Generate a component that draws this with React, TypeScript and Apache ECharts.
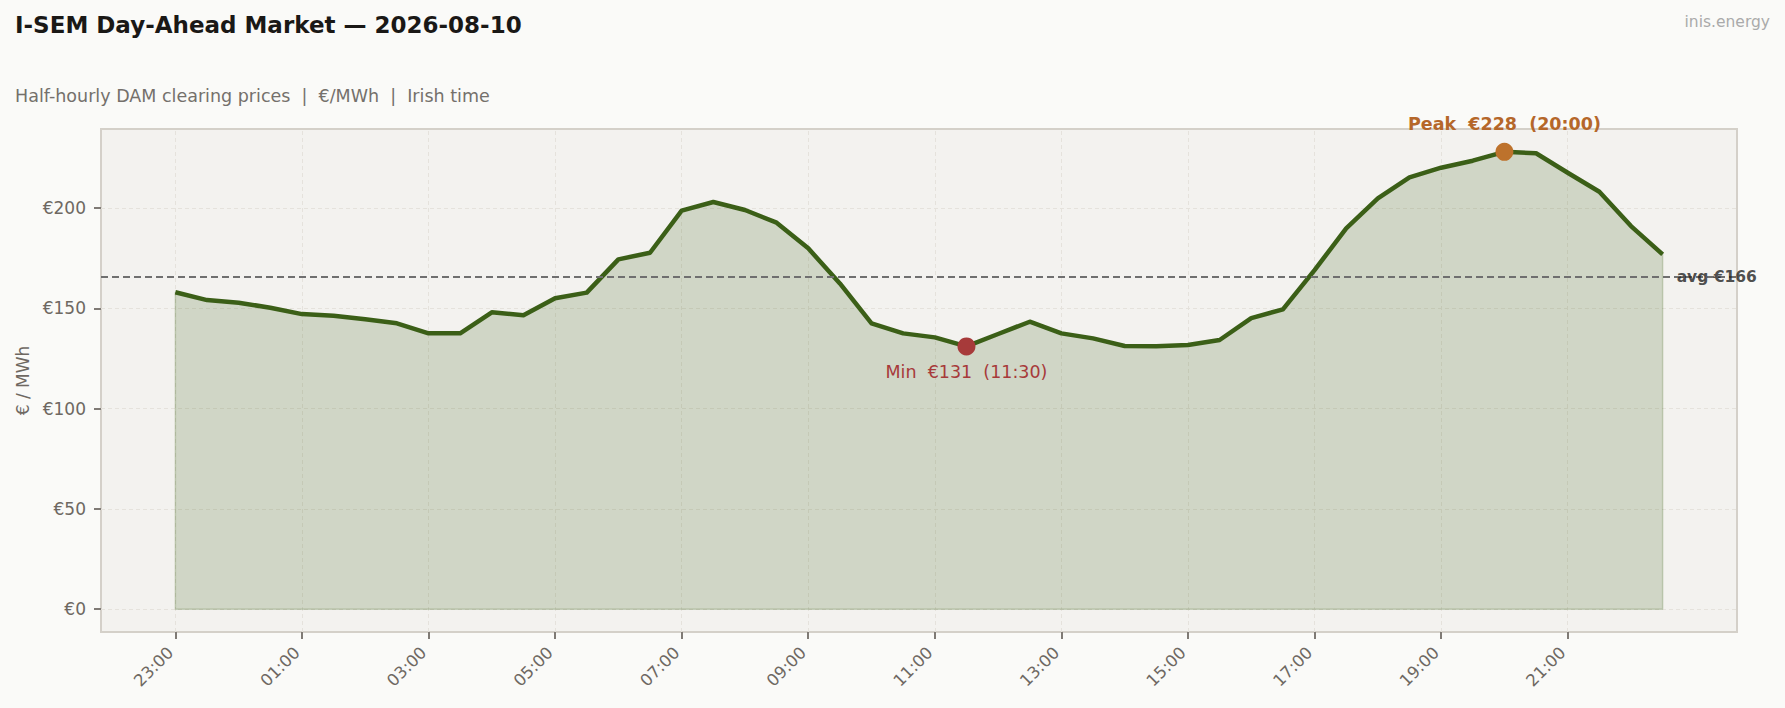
import React from 'react';
import * as echarts from 'echarts';

// half-hourly slots of the trading day (Irish time)
const slots = [
  '23:00', '23:30', '00:00', '00:30', '01:00', '01:30', '02:00', '02:30',
  '03:00', '03:30', '04:00', '04:30', '05:00', '05:30', '06:00', '06:30',
  '07:00', '07:30', '08:00', '08:30', '09:00', '09:30', '10:00', '10:30',
  '11:00', '11:30', '12:00', '12:30', '13:00', '13:30', '14:00', '14:30',
  '15:00', '15:30', '16:00', '16:30', '17:00', '17:30', '18:00', '18:30',
  '19:00', '19:30', '20:00', '20:30', '21:00', '21:30', '22:00', '22:30',
];

// DAM clearing prices, €/MWh
const prices = [
  158.0, 154.1, 152.8, 150.3, 147.1, 146.3, 144.5, 142.5, 137.5, 137.5,
  148.0, 146.5, 155.0, 157.8, 174.4, 177.7, 198.7, 203.0, 199.0, 192.7,
  179.9, 162.4, 142.5, 137.5, 135.5, 131.0, 137.2, 143.3, 137.5, 135.0,
  131.2, 131.1, 131.7, 134.2, 145.1, 149.5, 169.0, 189.9, 204.8, 215.3,
  220.1, 223.6, 228.0, 227.3, 217.6, 208.1, 191.0, 176.9,
];

const xTickLabels = ['23:00', '01:00', '03:00', '05:00', '07:00', '09:00', '11:00', '13:00', '15:00', '17:00', '19:00', '21:00'];
const yTicks = [0, 50, 100, 150, 200];

const FONT = 'DejaVu Sans';
const MUTED = '#6e6862';
const LINE = '#3b5f17';

const App = () => {
  const chartRef = React.useRef(null);

  React.useEffect(() => {
    const myChart = echarts.init(chartRef.current, null, { renderer: 'svg' });

    const n = prices.length;
    const xTicks = xTickLabels.map((t) => slots.indexOf(t));
    const avg = prices.reduce((a, b) => a + b, 0) / n;
    const maxV = Math.max(...prices);
    const minV = Math.min(...prices);
    const peakIdx = prices.indexOf(maxV);
    const minIdx = prices.indexOf(minV);
    const xPad = (n - 1) * 0.05;
    const yPad = maxV * 0.05;

    const option: any = {
      animation: false,
      backgroundColor: '#fafaf8',
      textStyle: { fontFamily: FONT },
      graphic: [
        {
          type: 'text',
          x: 15,
          y: 25,
          style: {
            text: 'I-SEM Day-Ahead Market — 2026-08-10',
            fontFamily: FONT,
            fontSize: 23,
            fontWeight: 'bold',
            fill: '#1a1816',
            verticalAlign: 'middle',
          },
        },
        {
          type: 'text',
          x: 15,
          y: 96,
          style: {
            text: 'Half-hourly DAM clearing prices  |  €/MWh  |  Irish time',
            fontFamily: FONT,
            fontSize: 17.5,
            fill: '#74706b',
            verticalAlign: 'middle',
          },
        },
        {
          type: 'text',
          x: 1770,
          y: 22,
          style: {
            text: 'inis.energy',
            fontFamily: FONT,
            fontSize: 15.5,
            fill: '#aaaaaa',
            align: 'right',
            verticalAlign: 'middle',
          },
        },
      ],
      grid: {
        left: 101,
        top: 129,
        right: 48,
        bottom: 76,
        show: true,
        backgroundColor: '#f3f2ef',
        borderColor: '#d4d0c9',
        borderWidth: 2,
      },
      xAxis: {
        type: 'value',
        min: -xPad,
        max: n - 1 + xPad,
        axisLine: { show: false, onZero: false },
        splitLine: { show: false },
        axisTick: {
          show: true,
          customValues: xTicks,
          length: 7,
          lineStyle: { color: '#7f7a75', width: 2 },
        },
        axisLabel: {
          customValues: xTicks,
          rotate: 45,
          margin: 13,
          padding: [0, 7, 0, 0],
          fontSize: 16.5,
          color: MUTED,
          fontFamily: FONT,
          formatter: (v: number) => slots[Math.round(v)],
        },
      },
      yAxis: {
        type: 'value',
        min: -yPad,
        max: maxV + yPad,
        name: '€ / MWh',
        nameLocation: 'middle',
        nameGap: 67,
        nameTextStyle: { fontSize: 17, color: MUTED, fontFamily: FONT },
        axisLine: { show: false, onZero: false },
        splitLine: { show: false },
        axisTick: {
          show: true,
          customValues: yTicks,
          length: 7,
          lineStyle: { color: '#7f7a75', width: 2 },
        },
        axisLabel: {
          customValues: yTicks,
          margin: 15,
          fontSize: 17,
          color: MUTED,
          fontFamily: FONT,
          formatter: (v: number) => '€' + Math.round(v),
        },
      },
      series: [
        {
          name: 'gridlines',
          type: 'line',
          data: [],
          z: 1,
          silent: true,
          markLine: {
            z: 1,
            silent: true,
            symbol: ['none', 'none'],
            label: { show: false },
            lineStyle: { color: '#e5e2dc', type: [4, 3], width: 1 },
            data: [
              ...xTicks.map((v) => ({ xAxis: v })),
              ...yTicks.map((v) => ({ yAxis: v })),
            ],
          },
        },
        {
          name: 'fill edge',
          type: 'line',
          data: [[0, prices[0]], [0, 0], [n - 1, 0], [n - 1, prices[n - 1]]],
          symbol: 'none',
          silent: true,
          z: 2,
          lineStyle: { color: 'rgba(59,95,23,0.22)', width: 1.5 },
        },
        {
          name: 'DAM price',
          type: 'line',
          data: prices.map((v, i) => [i, v]),
          symbol: 'none',
          z: 3,
          lineStyle: { color: LINE, width: 4.5, join: 'round' },
          areaStyle: { color: 'rgba(59,95,23,0.19)', opacity: 1, origin: 0 },
          markLine: {
            z: 4,
            silent: true,
            symbol: ['none', 'none'],
            label: { show: false },
            lineStyle: { color: '#6f6f6f', type: [7, 4], width: 2 },
            data: [{ yAxis: avg }],
          },
        },
        {
          name: 'avg label',
          type: 'scatter',
          data: [[n - 1, avg]],
          symbolSize: 0,
          itemStyle: { color: 'transparent' },
          z: 5,
          label: {
            show: true,
            position: 'right',
            distance: 14,
            formatter: 'avg €' + Math.round(avg),
            fontSize: 15.5,
            fontWeight: 'bold',
            color: '#222222',
            fontFamily: FONT,
          },
        },
        {
          name: 'peak',
          type: 'scatter',
          data: [[peakIdx, maxV]],
          symbolSize: 18,
          z: 6,
          itemStyle: { color: '#bd722c', opacity: 1 },
          label: {
            show: true,
            position: 'top',
            distance: 10,
            formatter: 'Peak  €' + Math.round(maxV) + '  (' + slots[peakIdx] + ')',
            fontSize: 17.5,
            fontWeight: 'bold',
            color: '#b5672a',
            fontFamily: FONT,
          },
        },
        {
          name: 'min',
          type: 'scatter',
          data: [[minIdx, minV]],
          symbolSize: 18,
          z: 6,
          itemStyle: { color: '#a73a3a', opacity: 1 },
          label: {
            show: true,
            position: 'bottom',
            distance: 8,
            formatter: 'Min  €' + Math.round(minV) + '  (' + slots[minIdx] + ')',
            fontSize: 17.5,
            color: '#a73a3a',
            fontFamily: FONT,
          },
        },
      ],
    };

    myChart.setOption(option);

    return () => {
      myChart.dispose();
    };
  }, []);

  return (
    <div
      ref={chartRef}
      style={{
        position: 'fixed',
        left: 0,
        top: 0,
        width: '100vw',
        height: '100vh',
        background: '#fafaf8',
      }}
    />
  );
};

export default App;
